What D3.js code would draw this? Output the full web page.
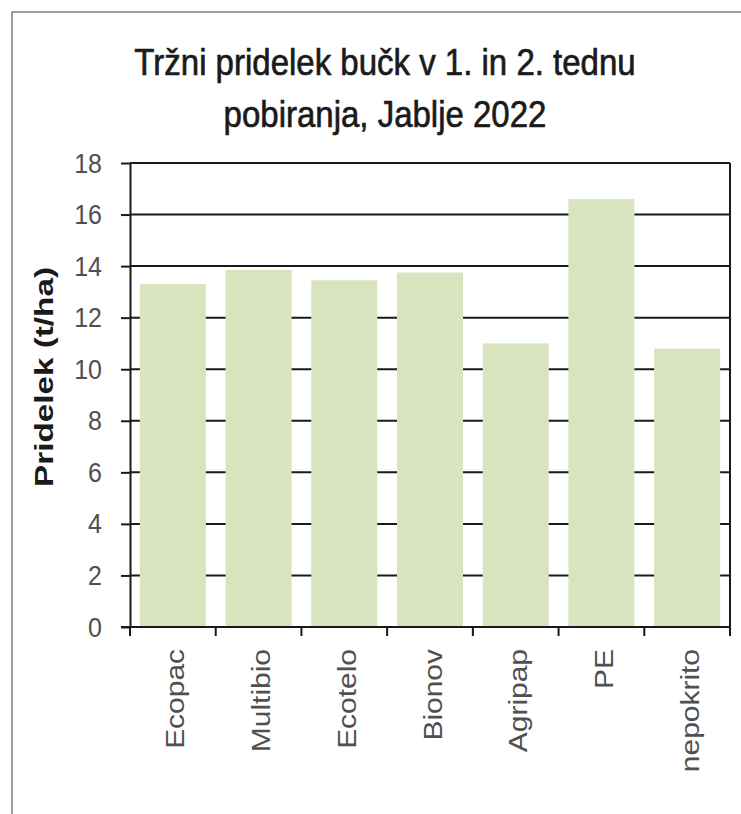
<!DOCTYPE html>
<html>
<head>
<meta charset="utf-8">
<script src="https://cdn.jsdelivr.net/npm/d3@7"></script>
<style>
  body { margin: 0; background: #fff; }
  text { font-family: "Liberation Sans", Arial, sans-serif; }
</style>
</head>
<body>
<svg id="chart" width="741" height="814"></svg>
<script>
var categories = ["Ecopac", "Multibio", "Ecotelo", "Bionov", "Agripap", "PE", "nepokrito"];
var values = [13.3, 13.85, 13.45, 13.75, 11.0, 16.6, 10.8];
var yTicks = [0, 2, 4, 6, 8, 10, 12, 14, 16, 18];
var titleLines = ["Tržni pridelek bučk v 1. in 2. tednu", "pobiranja, Jablje 2022"];
var yTitle = "Pridelek (t/ha)";

// the source picture is a bit stretched vertically
var k = 1.13;
var plotLeft = 130, plotRight = 730, plotTop = 163, plotBottom = 627;

var svg = d3.select('#chart');

// outer chart frame
svg.append('rect')
    .attr('x', 12).attr('y', 12)
    .attr('width', 760).attr('height', 830)
    .attr('fill', 'none')
    .attr('stroke', '#7f7f7f')
    .attr('stroke-width', 1.5);

var x = d3.scaleBand().domain(categories).range([plotLeft, plotRight])
    .paddingInner(0.23).paddingOuter(0.115);
var y = d3.scaleLinear().domain([0, 18]).range([plotBottom, plotTop]);

// gridlines
svg.append('g').selectAll('line')
    .data(yTicks.filter(function(d) { return d > 0; }))
    .join('line')
    .attr('x1', plotLeft).attr('x2', plotRight)
    .attr('y1', function(d) { return y(d); })
    .attr('y2', function(d) { return y(d); })
    .attr('stroke', '#1a1a1a')
    .attr('stroke-width', 2);

// right border of plot
svg.append('line')
    .attr('x1', plotRight).attr('x2', plotRight)
    .attr('y1', plotTop).attr('y2', plotBottom)
    .attr('stroke', '#1a1a1a').attr('stroke-width', 2);

// bars
svg.append('g').selectAll('rect')
    .data(values)
    .join('rect')
    .attr('x', function(d, i) { return x(categories[i]); })
    .attr('width', x.bandwidth())
    .attr('y', function(d) { return y(d); })
    .attr('height', function(d) { return y(0) - y(d); })
    .attr('fill', '#d7e4bd');

// y axis
var yAxis = svg.append('g')
    .attr('transform', 'translate(' + plotLeft + ',0)')
    .call(d3.axisLeft(y).tickValues(yTicks).tickSize(9).tickPadding(19).tickSizeOuter(0));
yAxis.select('.domain').attr('stroke', '#1a1a1a').attr('stroke-width', 2);
yAxis.selectAll('.tick line').attr('stroke', '#1a1a1a').attr('stroke-width', 2);
yAxis.selectAll('.tick text')
    .attr('font-size', 25)
    .attr('fill', '#505050')
    .attr('transform', 'scale(1,' + k + ')')
    .style('font-family', '"Liberation Sans", Arial, sans-serif');

// x axis: ticks sit on band edges
var edges = categories.map(function(c) { return x(c) - x.step() * x.paddingInner() / 2; });
edges.push(plotRight);
svg.append('line')
    .attr('x1', plotLeft - 9).attr('x2', plotRight)
    .attr('y1', plotBottom).attr('y2', plotBottom)
    .attr('stroke', '#1a1a1a').attr('stroke-width', 2);
svg.append('g').selectAll('line')
    .data(edges)
    .join('line')
    .attr('x1', function(d) { return d; })
    .attr('x2', function(d) { return d; })
    .attr('y1', plotBottom).attr('y2', plotBottom + 9)
    .attr('stroke', '#1a1a1a').attr('stroke-width', 2);

svg.append('g').selectAll('text')
    .data(categories)
    .join('text')
    .attr('transform', function(d) {
        return 'translate(' + (x(d) + x.bandwidth() / 2 + 2) + ',' + (plotBottom + 22) + ') scale(1,' + k + ') rotate(-90)';
    })
    .attr('text-anchor', 'end')
    .attr('dy', '0.36em')
    .attr('font-size', 26.5)
    .attr('fill', '#505050')
    .text(function(d) { return d; });

// y axis title
svg.append('text')
    .attr('transform', 'translate(53,377) scale(1,' + k + ') rotate(-90)')
    .attr('text-anchor', 'middle')
    .attr('font-size', 25)
    .attr('font-weight', 'bold')
    .attr('textLength', 220 / k)
    .attr('lengthAdjust', 'spacingAndGlyphs')
    .attr('fill', '#1a1a1a')
    .text(yTitle);

// chart title
svg.append('g').selectAll('text')
    .data(titleLines)
    .join('text')
    .attr('transform', function(d, i) { return 'translate(385,' + (75 + i * 52) + ') scale(1,' + k + ')'; })
    .attr('text-anchor', 'middle')
    .attr('font-size', 33)
    .attr('fill', '#1a1a1a')
    .attr('stroke', '#1a1a1a')
    .attr('stroke-width', 0.6)
    .text(function(d) { return d; });
</script>
</body>
</html>
